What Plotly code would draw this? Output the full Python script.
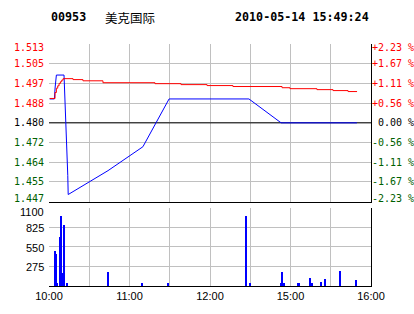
import plotly.graph_objects as go

# ---------------- data ----------------
code = "00953"
name = "美克国际"
stamp = "2010-05-14 15:49:24"
prev_close = 1.480

price_lo, price_hi = 1.447, 1.513
price_labels = ["1.513", "1.505", "1.497", "1.488", "1.480", "1.472", "1.464", "1.455", "1.447"]
pct_labels = ["+2.23 %", "+1.67 %", "+1.11 %", "+0.56 %", " 0.00 %", "-0.56 %", "-1.11 %", "-1.67 %", "-2.23 %"]

# minutes since open (10:00-12:30 then 14:30-16:00 -> 0..240)
time_vals = [0, 60, 120, 180, 240]
time_labels = ["10:00", "11:00", "12:00", "15:00", "16:00"]

price_min = [0.5, 4.0, 4.6, 5.5, 11.2, 11.9, 13.0, 14.0, 14.3, 44.0, 70.0, 89.5, 149.0, 173.0, 229.5]
price_val = [1.490, 1.490, 1.495, 1.500, 1.500, 1.491, 1.475, 1.458, 1.450, 1.460, 1.470, 1.490, 1.490, 1.480, 1.480]

avg_min = [0.5, 4.5, 5.5, 6.5, 7.5, 8.5, 9.5, 10.5, 17.9, 25.3, 40.2, 79.0, 98.4, 117.8, 137.1,
           173.7, 179.6, 199.7, 211.7, 222.9, 229.6]
avg_val = [1.4902, 1.4927, 1.4945, 1.4955, 1.4965, 1.4972, 1.4979, 1.4985, 1.4981, 1.4976, 1.4968,
           1.4964, 1.4960, 1.4956, 1.4952, 1.4947, 1.4943, 1.4939, 1.4935, 1.4931, 1.4931]

vol_min = [4.5, 5.5, 6.2, 8.4, 9.3, 10.7, 11.4, 13.8, 44.2, 69.1, 89.0, 147.0, 150.0,
           172.9, 173.9, 175.2, 185.4, 186.2, 194.8, 196.3, 202.9, 205.9, 217.1, 229.0]
vol_val = [501, 459, 42, 696, 988, 181, 863, 42, 195, 42, 42, 988, 42,
           42, 205, 42, 42, 42, 111, 42, 56, 97, 209, 84]
vol_ticks = [1100, 825, 550, 275]
vol_labels = ["1100", "825", "550", "275"]
vol_max = 1100

# ---------------- styling ----------------
RED = "#FF0000"
GREEN = "#006000"
BLUE = "#0000FF"
GRID = "#C0C0C0"
MONO = "DejaVu Sans Mono"
SANS = "Liberation Sans"

n = len(price_labels)
price_ticks = [price_hi - i * (price_hi - price_lo) / (n - 1) for i in range(n)]
grid30 = list(range(0, 241, 30))
grid_text = [time_labels[time_vals.index(v)] if v in time_vals else "" for v in grid30]


def lab_color(i):
    return RED if i < n // 2 else ("#000000" if i == n // 2 else GREEN)


def edge_shift(i, count, amt):
    if i == 0:
        return -amt
    if i == count - 1:
        return amt
    return 0


fig = go.Figure()
fig.add_trace(go.Scatter(x=[0, 240], y=[prev_close, prev_close], mode="lines",
                         line=dict(color="black", width=1), xaxis="x", yaxis="y", hoverinfo="skip"))
fig.add_trace(go.Scatter(x=price_min, y=price_val, mode="lines",
                         line=dict(color=BLUE, width=1), xaxis="x", yaxis="y"))
fig.add_trace(go.Scatter(x=avg_min, y=avg_val, mode="lines", line_shape="hv",
                         line=dict(color=RED, width=1), xaxis="x", yaxis="y"))
fig.add_trace(go.Bar(x=vol_min, y=vol_val, width=0.9, marker=dict(color=BLUE, line=dict(width=0)),
                     xaxis="x2", yaxis="y3"))
# invisible helpers so the right-hand frame axes get drawn
fig.add_trace(go.Scatter(x=[0], y=[prev_close], mode="markers", marker=dict(opacity=0),
                         xaxis="x", yaxis="y2", hoverinfo="skip"))
fig.add_trace(go.Scatter(x=[0], y=[0], mode="markers", marker=dict(opacity=0),
                         xaxis="x2", yaxis="y4", hoverinfo="skip"))

annotations = []
for i, (v, lt, rt) in enumerate(zip(price_ticks, price_labels, pct_labels)):
    ys = edge_shift(i, n, 3)
    annotations.append(dict(text=lt, xref="paper", yref="y", x=0, y=v, xanchor="right", yanchor="middle",
                            xshift=-4, yshift=ys, showarrow=False, borderpad=0,
                            font=dict(family=MONO, size=10, color=lab_color(i))))
    annotations.append(dict(text=rt.replace(" ", "&nbsp;"), xref="paper", yref="y", x=1, y=v,
                            xanchor="left", yanchor="middle", xshift=0, yshift=ys, showarrow=False,
                            borderpad=0, font=dict(family=MONO, size=10, color=lab_color(i))))
for i, (v, t) in enumerate(zip(vol_ticks, vol_labels)):
    annotations.append(dict(text=t, xref="paper", yref="y3", x=0, y=v, xanchor="right", yanchor="middle",
                            xshift=-4, yshift=-4 if i == 0 else -1, showarrow=False, borderpad=0,
                            font=dict(family=SANS, size=11, color="black")))

title_y = (288 - 17) / 244
annotations += [
    dict(text="<b>%s</b>" % code, xref="paper", yref="paper", x=0.0, y=title_y,
         xanchor="left", yanchor="middle", showarrow=False,
         font=dict(family=MONO, size=11.7, color="black")),
    dict(text=name, xref="paper", yref="paper", x=(103 - 49) / 322, y=title_y,
         xanchor="left", yanchor="middle", showarrow=False,
         font=dict(family="Noto Sans CJK SC", size=12.5, color="black")),
    dict(text="<b>%s</b>" % stamp, xref="paper", yref="paper", x=1.0, y=title_y,
         xanchor="right", yanchor="middle", showarrow=False,
         font=dict(family=MONO, size=11.7, color="black")),
]

top_dom = [85 / 244, 1]
bot_dom = [0, 79 / 244]

fig.update_layout(
    width=414, height=314,
    margin=dict(l=49, r=43, t=44, b=26),
    paper_bgcolor="white", plot_bgcolor="white",
    showlegend=False, bargap=0,
    xaxis=dict(domain=[0, 1], anchor="y", range=[0, 240], tickvals=grid30, showticklabels=False,
               showgrid=True, gridcolor=GRID, gridwidth=1, zeroline=False,
               showline=True, linecolor="black", linewidth=1, ticks=""),
    yaxis=dict(domain=top_dom, anchor="x", range=[price_lo, price_hi], tickvals=price_ticks,
               showticklabels=False, showgrid=True, gridcolor=GRID, gridwidth=1, zeroline=False,
               ticks="", showline=False),
    yaxis2=dict(overlaying="y", side="right", anchor="x", range=[price_lo, price_hi],
                showticklabels=False, showgrid=False, zeroline=False,
                showline=True, linecolor="black", linewidth=1, ticks=""),
    xaxis2=dict(domain=[0, 1], anchor="y3", range=[0, 240], tickvals=grid30, ticktext=grid_text,
                tickfont=dict(family=SANS, size=11, color="black"),
                showgrid=True, gridcolor=GRID, gridwidth=1, zeroline=False,
                showline=True, linecolor="black", linewidth=1, ticks=""),
    yaxis3=dict(domain=bot_dom, anchor="x2", range=[0, vol_max], tickvals=vol_ticks,
                showticklabels=False, showgrid=True, gridcolor=GRID, gridwidth=1, zeroline=False,
                ticks="", showline=False),
    yaxis4=dict(overlaying="y3", side="right", anchor="x2", range=[0, vol_max],
                showticklabels=False, showgrid=False, zeroline=False,
                showline=True, linecolor="black", linewidth=1, ticks=""),
    annotations=annotations,
)

fig.write_html("out.html")
